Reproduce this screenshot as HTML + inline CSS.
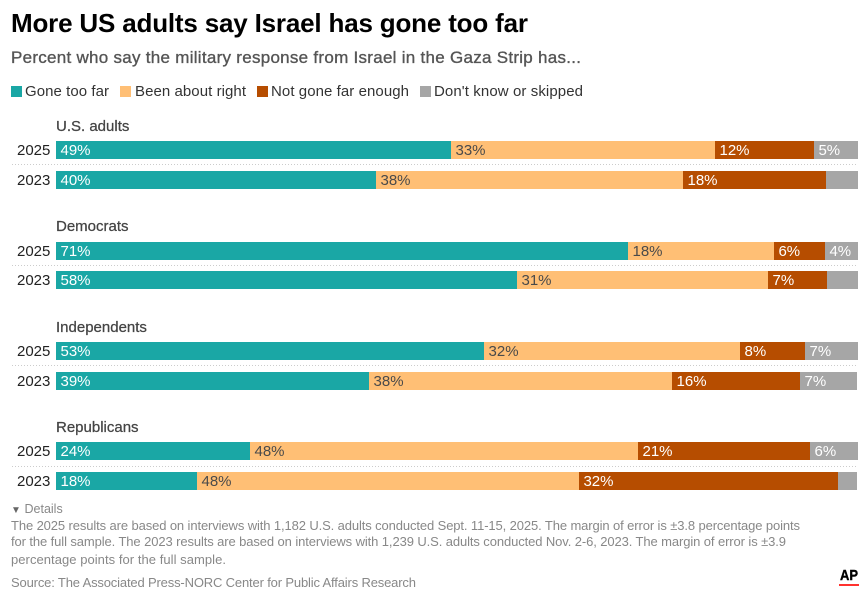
<!DOCTYPE html>
<html lang="en">
<head>
<meta charset="utf-8">
<title>More US adults say Israel has gone too far</title>
<style>
html,body{margin:0;padding:0;background:#fff;}
svg{display:block;font-family:"Liberation Sans",sans-serif;}
</style>
</head>
<body>
<svg id="chart" xmlns="http://www.w3.org/2000/svg" width="866" height="598" viewBox="0 0 866 598">
  <rect x="0" y="0" width="866" height="598" fill="#fff"/>
  <text x="11" y="32" font-size="26" font-weight="700" fill="#000" textLength="517" lengthAdjust="spacing">More US adults say Israel has gone too far</text>
  <text x="11" y="63" font-size="17" fill="#555" stroke="#555" stroke-width="0.35" textLength="570" lengthAdjust="spacing">Percent who say the military response from Israel in the Gaza Strip has...</text>

  <g>
    <rect x="11" y="86" width="11" height="11" fill="#1aa7a5"/>
    <text x="25" y="96" font-size="15" fill="#333" textLength="84" lengthAdjust="spacing">Gone too far</text>
    <rect x="120" y="86" width="11" height="11" fill="#ffbf75"/>
    <text x="135" y="96" font-size="15" fill="#333" textLength="111" lengthAdjust="spacing">Been about right</text>
    <rect x="257" y="86" width="11" height="11" fill="#b64d00"/>
    <text x="271" y="96" font-size="15" fill="#333" textLength="138" lengthAdjust="spacing">Not gone far enough</text>
    <rect x="420" y="86" width="11" height="11" fill="#a6a6a6"/>
    <text x="434" y="96" font-size="15" fill="#333" textLength="149" lengthAdjust="spacing">Don't know or skipped</text>
  </g>

  <g id="plot"></g>

  <g>
    <text x="11" y="513" font-size="12.5" fill="#888"><tspan fill="#666" font-size="10">▼</tspan><tspan x="24.5">Details</tspan></text>
    <text x="11" y="530" font-size="13" fill="#888" textLength="789" lengthAdjust="spacing">The 2025 results are based on interviews with 1,182 U.S. adults conducted Sept. 11-15, 2025. The margin of error is ±3.8 percentage points</text>
    <text x="11" y="546" font-size="13" fill="#888" textLength="775" lengthAdjust="spacing">for the full sample. The 2023 results are based on interviews with 1,239 U.S. adults conducted Nov. 2-6, 2023. The margin of error is ±3.9</text>
    <text x="11" y="564" font-size="13" fill="#888" textLength="215" lengthAdjust="spacing">percentage points for the full sample.</text>
    <text x="11" y="587" font-size="13" fill="#888" textLength="405" lengthAdjust="spacing">Source: The Associated Press-NORC Center for Public Affairs Research</text>
    <text x="840" y="580" font-size="15" font-weight="700" fill="#000" stroke="#000" stroke-width="0.4" textLength="18" lengthAdjust="spacingAndGlyphs">AP</text>
    <rect x="839" y="584" width="20" height="2" fill="#ff322e"/>
  </g>
</svg>

<script>
const groups = ["U.S. adults", "Democrats", "Independents", "Republicans"];
const years = ["2025", "2023"];
const goneTooFar = [49.25, 39.90, 71.32, 57.48, 53.37, 39.03, 24.19, 17.58];
const aboutRight = [32.92, 38.28, 18.20, 31.30, 31.92, 37.78, 48.38, 47.63];
const notFarEnough = [12.34, 17.83, 6.36, 7.36, 8.10, 15.96, 21.45, 32.29];
const dontKnow = [5.49, 3.99, 4.11, 3.87, 6.61, 7.11, 5.99, 2.37];
const goneTooFarLabels = ["49%", "40%", "71%", "58%", "53%", "39%", "24%", "18%"];
const aboutRightLabels = ["33%", "38%", "18%", "31%", "32%", "38%", "48%", "48%"];
const notFarEnoughLabels = ["12%", "18%", "6%", "7%", "8%", "16%", "21%", "32%"];
const dontKnowLabels = ["5%", "", "4%", "", "7%", "7%", "6%", ""];

(function () {
  const NS = "http://www.w3.org/2000/svg";
  const plot = document.getElementById("plot");
  const series = [
    { key: "gone-too-far", values: goneTooFar, labels: goneTooFarLabels, fill: "#1aa7a5", text: "#fff" },
    { key: "been-about-right", values: aboutRight, labels: aboutRightLabels, fill: "#ffbf75", text: "#4a4a4a" },
    { key: "not-gone-far-enough", values: notFarEnough, labels: notFarEnoughLabels, fill: "#b64d00", text: "#fff" },
    { key: "dont-know", values: dontKnow, labels: dontKnowLabels, fill: "#a6a6a6", text: "#fff" }
  ];
  const xScale = function (v) { return 56 + v * 8.02; };
  const groupY = function (g) { return Math.round(141.4 + g * 100.2); };
  const rowY = function (g, r) { return groupY(g) + r * (g === 1 ? 29 : 30); };
  const dividerY = function (g) { return groupY(g) + (g === 3 ? 24.5 : 23.5); };
  const headingY = function (g) { return groupY(g) - (g === 1 ? 11 : 10); };

  function node(tag, attrs, text) {
    const el = document.createElementNS(NS, tag);
    Object.keys(attrs).forEach(function (k) { el.setAttribute(k, attrs[k]); });
    if (text !== undefined) el.textContent = text;
    plot.appendChild(el);
    return el;
  }

  groups.forEach(function (group, g) {
    const heading = node("text", { x: 56, y: headingY(g), "font-size": 15, fill: "#444", stroke: "#444", "stroke-width": 0.25 }, group);
    
    

    years.forEach(function (year, r) {
      const i = g * years.length + r;
      const y = rowY(g, r);

      const yearLabel = node("text", { x: 17, y: y + 14, "font-size": 15, fill: "#222" }, year);
      
      

      let cumulative = 0;
      series.forEach(function (s) {
        const x0 = xScale(cumulative);
        const x1 = xScale(cumulative + s.values[i]);
        cumulative += s.values[i];

        const bar = node("rect", { x: x0, y: y, width: x1 - x0, height: 18, fill: s.fill, "shape-rendering": "crispEdges" });
        
        

        if (s.labels[i]) {
          const label = node("text", { x: x0 + 4.5, y: y + 14, "font-size": 15, fill: s.text }, s.labels[i]);
          
          
        }
      });
    });

    const divider = node("line", { x1: 12, x2: 858, y1: dividerY(g), y2: dividerY(g), stroke: "#ccc", "stroke-width": 1, "stroke-dasharray": "1 2" });
    
    
  });
})();
</script>
</body>
</html>
